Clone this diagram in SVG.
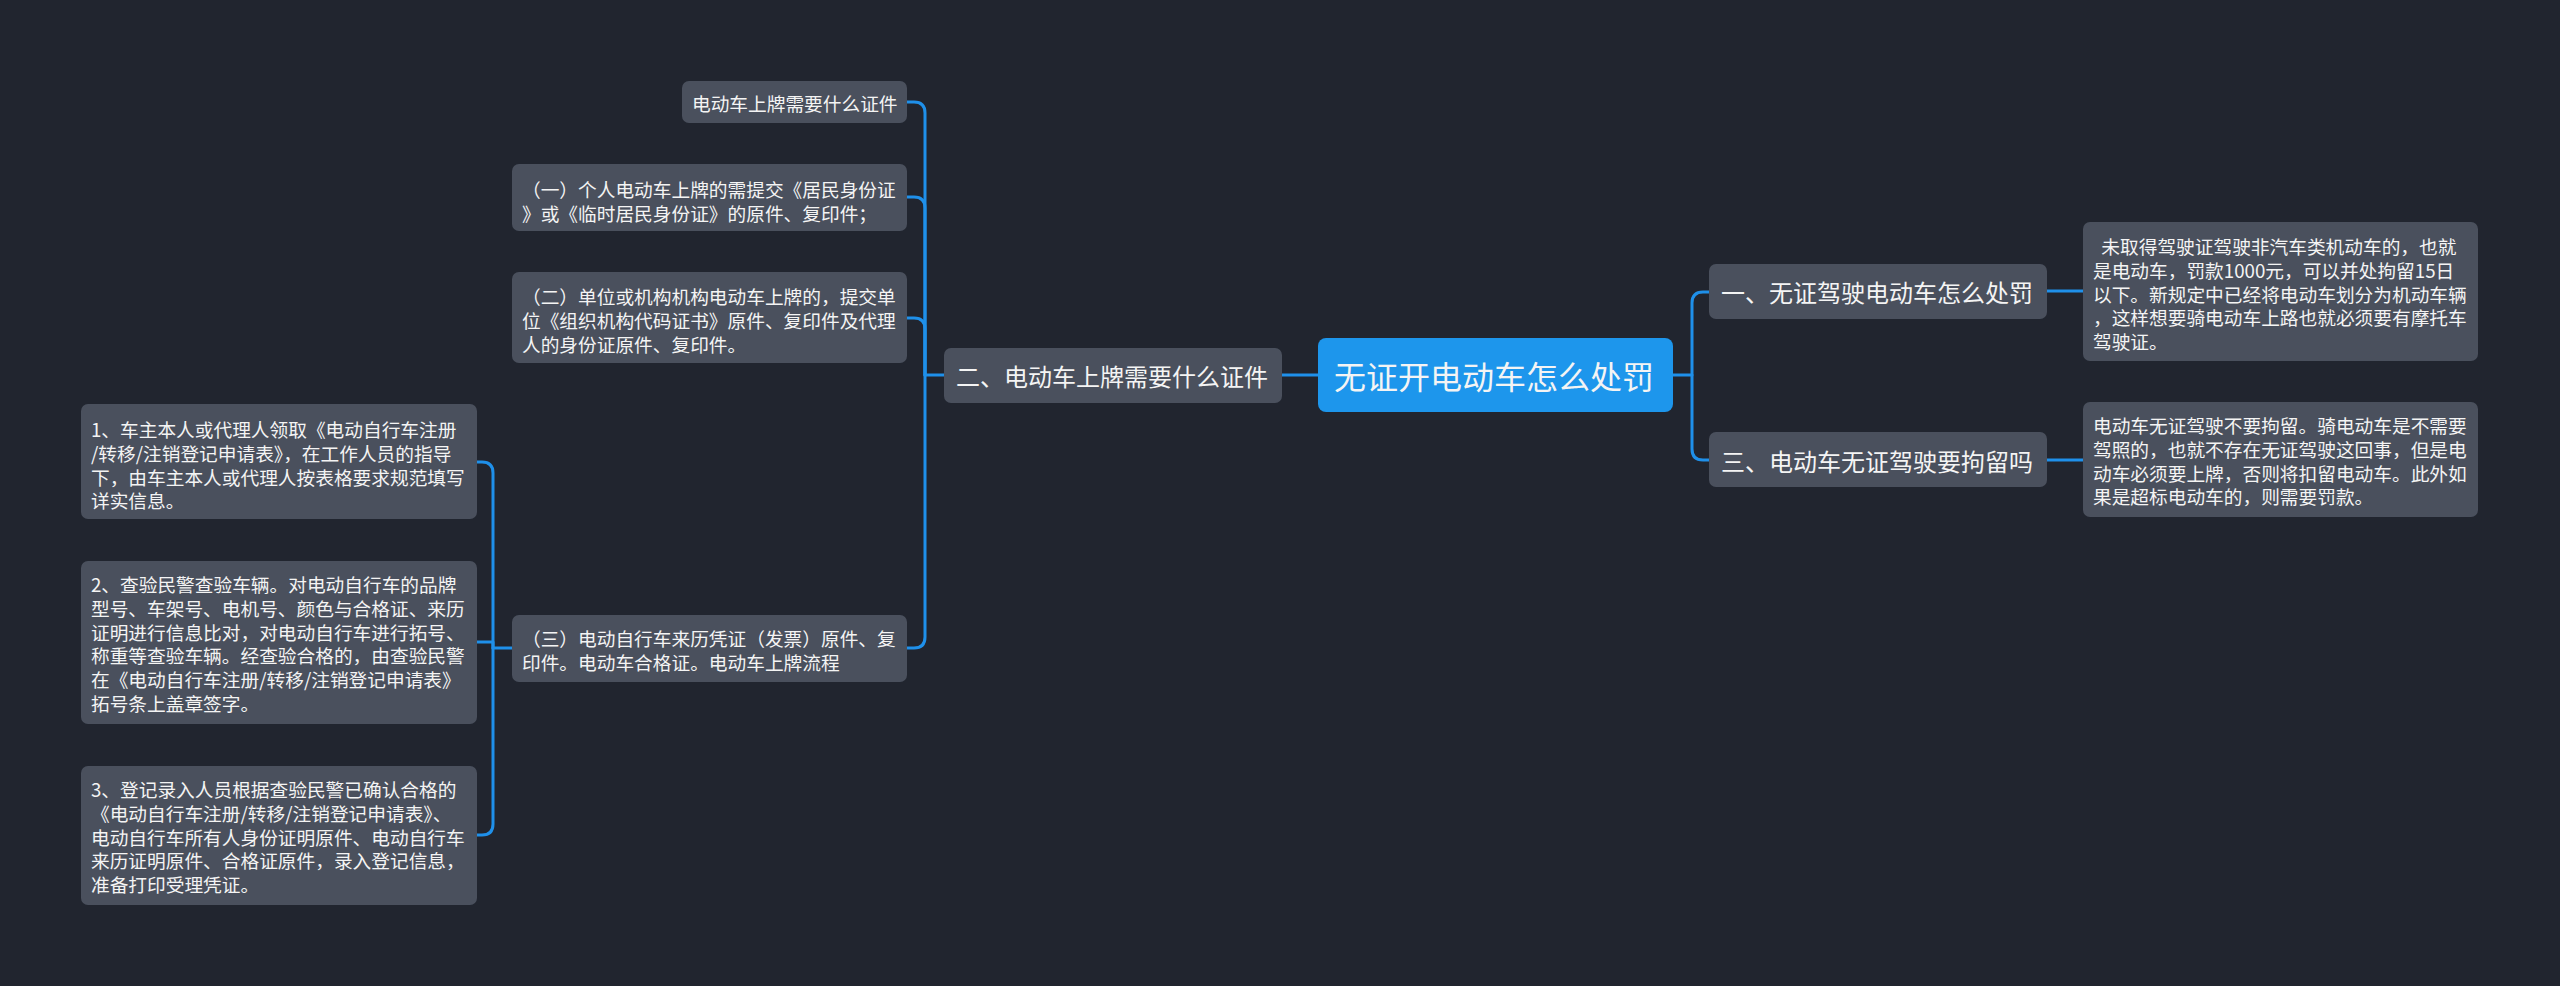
<svg xmlns="http://www.w3.org/2000/svg" width="2560" height="986" viewBox="0 0 2560 986">
<style>
.bg{fill:#21252f}
.box{fill:#4a505d}
.root{fill:#1d96ec}
.t{font-family:"Noto Sans CJK SC","Noto Sans",sans-serif;fill:#f4f4f4;dominant-baseline:central}
.s{font-size:18.7px}
.m{font-size:24px}
.r{font-size:32px}
.c{fill:none;stroke:#1f90ea;stroke-width:3;stroke-linecap:round;stroke-linejoin:round}
</style>
<rect class="bg" x="0" y="0" width="2560" height="986"/>
<g id="connectors">
<path class="c" d="M1318,375 H1282"/>
<path class="c" d="M1673,375 H1692 V303 Q1692,292 1703,292 H1709"/>
<path class="c" d="M1692,375 V449 Q1692,460 1703,460 H1709"/>
<path class="c" d="M2047,291 H2083"/>
<path class="c" d="M2047,460 H2083"/>
<path class="c" d="M944,375 H925 V113 Q925,102 914,102 H907"/>
<path class="c" d="M925,375 V208 Q925,197 914,197 H907"/>
<path class="c" d="M925,375 V329 Q925,318 914,318 H907"/>
<path class="c" d="M925,375 V637 Q925,648 914,648 H907"/>
<path class="c" d="M513,648 H493 V473 Q493,462 482,462 H477"/>
<path class="c" d="M493,648 V642 H477"/>
<path class="c" d="M493,648 V824 Q493,835 482,835 H477"/>
</g>
<g id="root">
<rect class="root" x="1318" y="338" width="355" height="74" rx="8"/>
<text class="t r" x="1334" y="375">无证开电动车怎么处罚</text>
</g>
<g id="n1">
<rect class="box" x="1709" y="264" width="338" height="55" rx="7"/>
<text class="t m" x="1721" y="291">一、无证驾驶电动车怎么处罚</text>
</g>
<g id="n3">
<rect class="box" x="1709" y="432" width="338" height="55" rx="7"/>
<text class="t m" x="1721" y="460">三、电动车无证驾驶要拘留吗</text>
</g>
<g id="n2">
<rect class="box" x="944" y="348" width="338" height="55" rx="7"/>
<text class="t m" x="956" y="375">二、电动车上牌需要什么证件</text>
</g>
<g id="leaf-r1">
<rect class="box" x="2083" y="222" width="395" height="139" rx="7"/>
<text class="t s" xml:space="preserve"><tspan x="2093" y="245">  未取得驾驶证驾驶非汽车类机动车的，也就</tspan><tspan x="2093" y="268.8">是电动车，罚款1000元，可以并处拘留15日</tspan><tspan x="2093" y="292.6">以下。新规定中已经将电动车划分为机动车辆</tspan><tspan x="2093" y="316.4">，这样想要骑电动车上路也就必须要有摩托车</tspan><tspan x="2093" y="340.2">驾驶证。</tspan></text>
</g>
<g id="leaf-r2">
<rect class="box" x="2083" y="402" width="395" height="115" rx="7"/>
<text class="t s"><tspan x="2093" y="424">电动车无证驾驶不要拘留。骑电动车是不需要</tspan><tspan x="2093" y="447.8">驾照的，也就不存在无证驾驶这回事，但是电</tspan><tspan x="2093" y="471.6">动车必须要上牌，否则将扣留电动车。此外如</tspan><tspan x="2093" y="495.4">果是超标电动车的，则需要罚款。</tspan></text>
</g>
<g id="leaf-l1">
<rect class="box" x="682" y="81" width="225" height="42" rx="7"/>
<text class="t s" x="692" y="102">电动车上牌需要什么证件</text>
</g>
<g id="leaf-l2">
<rect class="box" x="512" y="164" width="395" height="67" rx="7"/>
<text class="t s"><tspan x="522" y="188">（一）个人电动车上牌的需提交《居民身份证</tspan><tspan x="522" y="211.8">》或《临时居民身份证》的原件、复印件；</tspan></text>
</g>
<g id="leaf-l3">
<rect class="box" x="512" y="272" width="395" height="91" rx="7"/>
<text class="t s"><tspan x="522" y="295">（二）单位或机构机构电动车上牌的，提交单</tspan><tspan x="522" y="318.8">位《组织机构代码证书》原件、复印件及代理</tspan><tspan x="522" y="342.6">人的身份证原件、复印件。</tspan></text>
</g>
<g id="leaf-l4">
<rect class="box" x="512" y="615" width="395" height="67" rx="7"/>
<text class="t s"><tspan x="522" y="637">（三）电动自行车来历凭证（发票）原件、复</tspan><tspan x="522" y="660.8">印件。电动车合格证。电动车上牌流程</tspan></text>
</g>
<g id="step1">
<rect class="box" x="81" y="404" width="396" height="115" rx="7"/>
<text class="t s"><tspan x="91" y="428">1、车主本人或代理人领取《电动自行车注册</tspan><tspan x="91" y="451.8">/转移/注销登记申请表》，在工作人员的指导</tspan><tspan x="91" y="475.6">下，由车主本人或代理人按表格要求规范填写</tspan><tspan x="91" y="499.4">详实信息。</tspan></text>
</g>
<g id="step2">
<rect class="box" x="81" y="561" width="396" height="163" rx="7"/>
<text class="t s"><tspan x="91" y="583">2、查验民警查验车辆。对电动自行车的品牌</tspan><tspan x="91" y="606.8">型号、车架号、电机号、颜色与合格证、来历</tspan><tspan x="91" y="630.6">证明进行信息比对，对电动自行车进行拓号、</tspan><tspan x="91" y="654.4">称重等查验车辆。经查验合格的，由查验民警</tspan><tspan x="91" y="678.2">在《电动自行车注册/转移/注销登记申请表》</tspan><tspan x="91" y="702">拓号条上盖章签字。</tspan></text>
</g>
<g id="step3">
<rect class="box" x="81" y="766" width="396" height="139" rx="7"/>
<text class="t s"><tspan x="91" y="788">3、登记录入人员根据查验民警已确认合格的</tspan><tspan x="91" y="811.8">《电动自行车注册/转移/注销登记申请表》、</tspan><tspan x="91" y="835.6">电动自行车所有人身份证明原件、电动自行车</tspan><tspan x="91" y="859.4">来历证明原件、合格证原件，录入登记信息，</tspan><tspan x="91" y="883.2">准备打印受理凭证。</tspan></text>
</g>
</svg>
